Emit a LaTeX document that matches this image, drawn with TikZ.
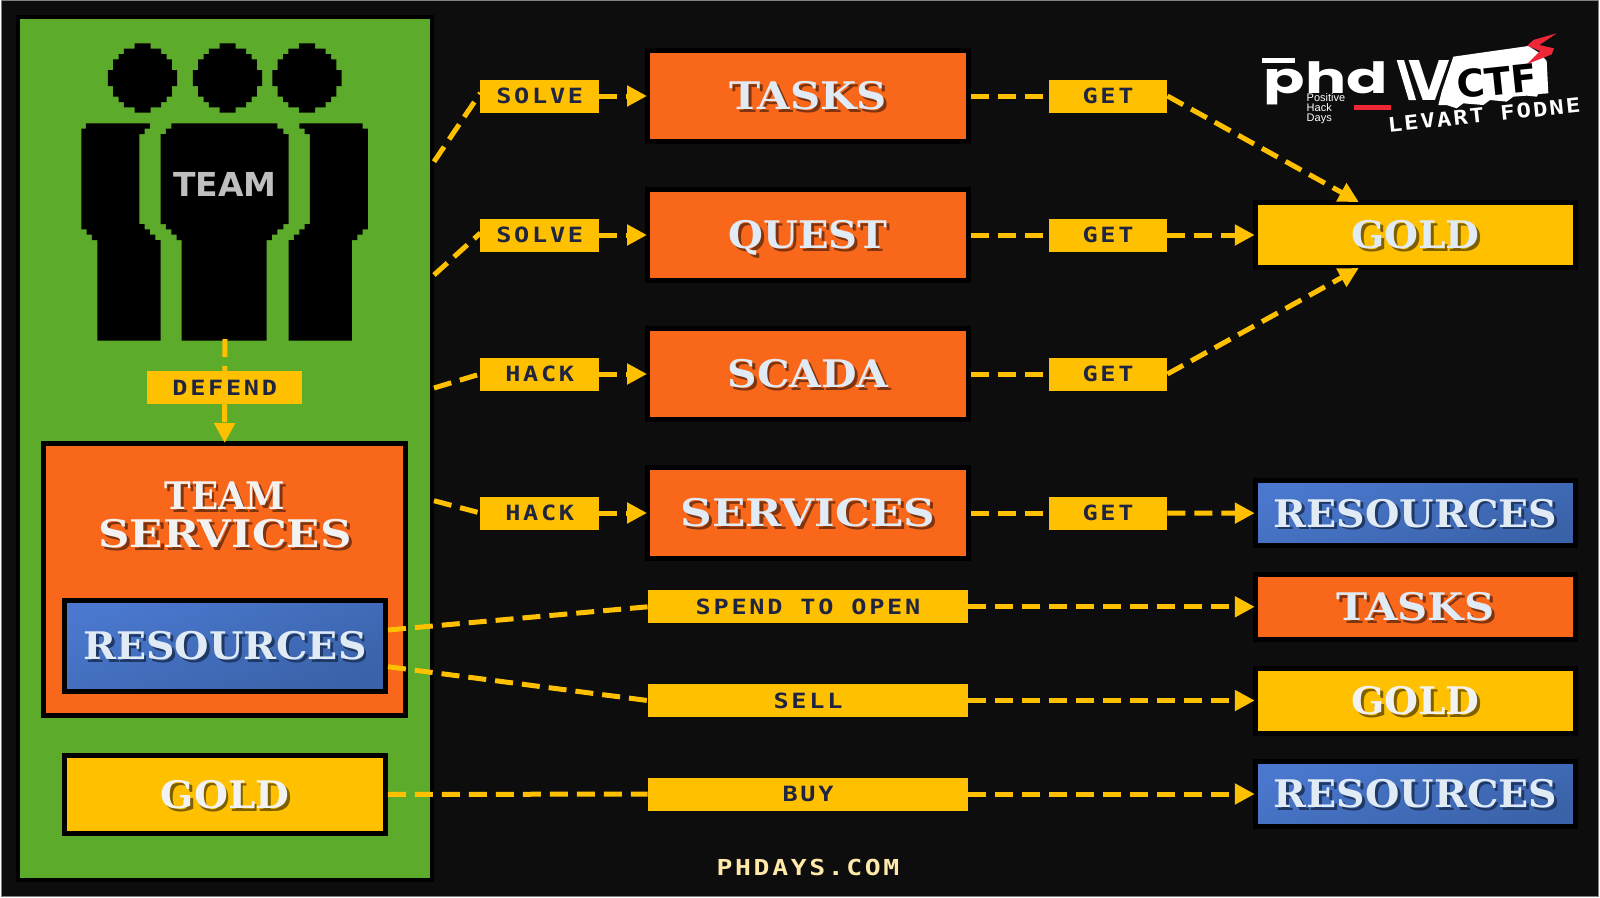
\documentclass[tikz,border=0pt]{standalone}
\usepackage{fontspec}
\usepackage{graphicx}
\usetikzlibrary{arrows.meta}
\setmainfont{Liberation Sans}
\newfontfamily\bigfont{DejaVu Serif}
\newfontfamily\lblfont[FakeStretch=1.2,LetterSpace=13]{DejaVu Sans Mono}
\newfontfamily\webfont[FakeStretch=1.2,LetterSpace=12]{DejaVu Sans Mono}
\newfontfamily\levfont[FakeStretch=1.2,LetterSpace=10]{DejaVu Sans Mono}
\newfontfamily\logofont{Poppins}
\newfontfamily\dvfont{DejaVu Sans}
\definecolor{bgc}{HTML}{0D0D0D}
\definecolor{greenc}{HTML}{5DAB2A}
\definecolor{orangec}{HTML}{F9671A}
\definecolor{goldc}{HTML}{FFC000}
\definecolor{blueA}{HTML}{4A78CE}
\definecolor{blueB}{HTML}{3A62A8}
\definecolor{lightc}{HTML}{E0EBF6}
\definecolor{whitec}{HTML}{F2F2F2}
\definecolor{shOr}{HTML}{7F3410}
\definecolor{shBl}{HTML}{1F3864}
\definecolor{shGo}{HTML}{7F6000}
\definecolor{inkc}{HTML}{1F2440}
\definecolor{redc}{HTML}{EE2737}
\definecolor{webc}{HTML}{FFE9A8}
% big title with a hard drop shadow: {shadow}{colour}{horizontal scale}{text}
\newcommand\bigtitle[4]{{\bigfont\bfseries\fontsize{38}{38}\selectfont
  \raisebox{0pt}[.729em][0pt]{\scalebox{#3}[1]{\rlap{\kern2.7pt\raisebox{-2.7pt}{\textcolor{#1}{#4}}}\textcolor{#2}{#4}}}}}
\tikzset{
  box/.style={rectangle,draw=black,line width=5pt,inner sep=0pt,align=center},
  orbox/.style={box,fill=orangec,minimum width=321pt,minimum height=91pt},
  rbox/.style={box,minimum width=320.5pt,minimum height=65pt},
  blueshade/.style={shade,shading=axis,left color=blueA,right color=blueB,shading angle=20},
  lbl/.style={rectangle,fill=goldc,inner sep=0pt,minimum height=33pt,
     text=inkc,font=\lblfont\bfseries\fontsize{21}{21}\selectfont},
  short/.style={lbl,minimum width=118.5pt},
  long/.style={lbl,minimum width=320.5pt},
  flow/.style={draw=goldc,line width=5pt,dash pattern=on 18pt off 9pt},
  arrowflow/.style={flow,shorten >=-2pt,-{Triangle[length=20pt,width=20pt]}},
  person/.style={fill=black},
}
\begin{document}
\begin{tikzpicture}[x=1pt,y=-1pt]
\useasboundingbox (0,0) rectangle (1600,897);
\fill[white] (0,0) rectangle (1600,897);
\draw[fill=bgc,draw=black!50,line width=1pt] (1.5,.5) rectangle (1598.5,896);

% panel
\node[rectangle,draw=black,fill=greenc,line width=4pt,minimum width=414.5pt,minimum height=863.5pt,inner sep=0pt] (panel) at (224.75,448.25) {};

% people
\foreach \cx in {142.5,227.5,307}{
\begin{scope}[shift={(\cx,78)},x=5.333pt,y=5.333pt]
\fill[person] (1.5,-6.5)--(1.5,-5.5)--(3.5,-5.5)--(3.5,-4.5)--(4.5,-4.5)--(4.5,-3.5)--(5.5,-3.5)--(5.5,-1.5)--(6.5,-1.5)--(6.5,1.5)--(5.5,1.5)--(5.5,3.5)--(4.5,3.5)--(4.5,4.5)--(3.5,4.5)--(3.5,5.5)--(1.5,5.5)--(1.5,6.5)
 --(-1.5,6.5)--(-1.5,5.5)--(-3.5,5.5)--(-3.5,4.5)--(-4.5,4.5)--(-4.5,3.5)--(-5.5,3.5)--(-5.5,1.5)--(-6.5,1.5)--(-6.5,-1.5)--(-5.5,-1.5)--(-5.5,-3.5)--(-4.5,-3.5)--(-4.5,-4.5)--(-3.5,-4.5)--(-3.5,-5.5)--(-1.5,-5.5)--(-1.5,-6.5)--cycle;
\end{scope}}
\begin{scope}[x=.33333pt,y=-.33333pt]
\fill[person] (514,370)--(832,370)--(832,386)--(850,386)--(850,402)--(866,402)--(866,672)--(850,672)--(850,688)--(832,688)--(832,704)--(816,704)--(816,720)--(800,720)--(800,1022)--(545,1022)--(545,720)--(530,720)--(530,704)--(514,704)--(514,688)--(498,688)--(498,672)--(482,672)--(482,402)--(498,402)--(498,386)--(514,386)--cycle;
\fill[person] (258,370)--(450,370)--(450,386)--(434,386)--(434,402)--(418,402)--(418,672)--(434,672)--(434,688)--(450,688)--(450,704)--(466,704)--(466,720)--(482,720)--(482,1022)--(292,1022)--(292,720)--(276,720)--(276,704)--(260,704)--(260,688)--(244,688)--(244,386)--(258,386)--cycle;
\fill[person] (898,370)--(1088,370)--(1088,386)--(1104,386)--(1104,688)--(1088,688)--(1088,704)--(1072,704)--(1072,720)--(1056,720)--(1056,1022)--(866,1022)--(866,720)--(882,720)--(882,704)--(898,704)--(898,688)--(914,688)--(914,672)--(930,672)--(930,402)--(914,402)--(914,386)--(898,386)--cycle;
\end{scope}
\node[text=black!25,font=\dvfont\bfseries\fontsize{33}{33}\selectfont,inner sep=0pt] (teamlbl) at (225,184) {TEAM};

% left boxes
\node[box,fill=orangec,minimum width=361.5pt,minimum height=272pt] (tsvc) at (224.5,579.5) {};
\node[inner sep=0pt] (tsvcA) at (225,496) {\bigtitle{shOr}{whitec}{.94}{TEAM}};
\node[inner sep=0pt] (tsvcB) at (225,533.5) {\bigtitle{shOr}{whitec}{1.147}{SERVICES}};
\node[box,blueshade,minimum width=320.5pt,minimum height=91pt] (lres) at (225,646) {\bigtitle{shBl}{lightc}{1.04}{RESOURCES}};
\node[box,fill=goldc,minimum width=320.5pt,minimum height=78.5pt] (lgold) at (225,794.5) {\bigtitle{shGo}{whitec}{1.025}{GOLD}};

% middle column
\node[orbox] (tasks) at (808,96) {\bigtitle{shOr}{lightc}{1.1}{TASKS}};
\node[orbox] (quest) at (808,235) {\bigtitle{shOr}{lightc}{1.054}{QUEST}};
\node[orbox] (scada) at (808,374) {\bigtitle{shOr}{lightc}{1.076}{SCADA}};
\node[orbox] (svc) at (808,513) {\bigtitle{shOr}{lightc}{1.153}{SERVICES}};

% verbs
\node[short] (v1) at (539.7,96) {SOLVE};
\node[short] (v2) at (539.7,235) {SOLVE};
\node[short] (v3) at (539.7,374) {HACK};
\node[short] (v4) at (539.7,513) {HACK};
\node[short] (g1) at (1108,96) {GET};
\node[short] (g2) at (1108,235) {GET};
\node[short] (g3) at (1108,374) {GET};
\node[short] (g4) at (1108,513) {GET};
\node[long] (spend) at (808,606.8) {SPEND TO OPEN};
\node[long] (sell) at (808,700.5) {SELL};
\node[long] (buy) at (808,794) {BUY};
\node[lbl,minimum width=155pt] (defend) at (224.7,387.5) {DEFEND};

% right column
\node[rbox,fill=goldc] (rgold) at (1415.5,235) {\bigtitle{shGo}{lightc}{1.025}{GOLD}};
\node[rbox,blueshade] (rres) at (1415.5,513.3) {\bigtitle{shBl}{lightc}{1.04}{RESOURCES}};
\node[rbox,fill=orangec] (rtasks) at (1415.5,606.8) {\bigtitle{shOr}{lightc}{1.1}{TASKS}};
\node[rbox,fill=goldc] (rgold2) at (1415.5,700.5) {\bigtitle{shGo}{whitec}{1.025}{GOLD}};
\node[rbox,blueshade] (rres2) at (1415.5,794) {\bigtitle{shBl}{lightc}{1.04}{RESOURCES}};

% free ends
\coordinate (p1) at (434,161.7);
\coordinate (p2) at (434,275);
\coordinate (p3) at (434,388);
\coordinate (p4) at (434,500.7);
\coordinate (bodyend) at (225,339);
\coordinate (goldtop) at (1357,201);
\coordinate (goldbot) at (1357,269);
\coordinate (v1in) at (480.4,93);
\coordinate (v2in) at (480.4,233);
\coordinate (resA) at (388,630);
\coordinate (resB) at (388,666.7);

% connectors
\draw[flow] (p1) -- (v1in);
\draw[flow] (p2) -- (v2in);
\draw[flow] (p3) -- (v3.west);
\draw[flow] (p4) -- (v4.west);
\draw[arrowflow] (v1) -- (tasks);
\draw[arrowflow] (v2) -- (quest);
\draw[arrowflow] (v3) -- (scada);
\draw[arrowflow] (v4) -- (svc);
\draw[flow] (tasks) -- (g1);
\draw[flow] (quest) -- (g2);
\draw[flow] (scada) -- (g3);
\draw[flow] (svc) -- (g4);
\draw[arrowflow] (g1.east) -- (goldtop);
\draw[arrowflow] (g2) -- (rgold);
\draw[arrowflow] (g3.east) -- (goldbot);
\draw[arrowflow] (g4) -- (rres);
\draw[flow] (resA) -- (spend.west);
\draw[flow] (resB) -- (sell.west);
\draw[flow] (lgold) -- (buy);
\draw[arrowflow] (spend) -- (rtasks);
\draw[arrowflow] (sell) -- (rgold2);
\draw[arrowflow] (buy) -- (rres2);
\draw[flow] (bodyend) -- (defend);
\draw[arrowflow] (defend) -- (tsvc);

% footer
\node[text=webc,font=\webfont\bfseries\fontsize{22}{22}\selectfont,inner sep=0pt] (web) at (808,867) {PHDAYS.COM};

% logo
\begin{scope}[shift={(1250,25)},x=.33333pt,y=-.33333pt]
\fill[white] (35,100) rectangle (135,115);
\fill[white] (440,105)--(462,105)--(498,225)--(476,225)--cycle;
\fill[white] (610,95)--(835,63)--(870,85)--(890,108)--(895,205)--(865,207)--(860,215)--(830,212)--(790,215)--(770,230)--(720,225)--(700,240)--(640,235)--(620,250)--(590,240)--(565,240)--(575,200)--cycle;
\fill[redc] (313,240) rectangle (423,256);
\fill[redc] (920,25)--(850,45)--(832,62)--(870,78)--(830,118)--(905,88)--(912,70)--(868,60)--cycle;
\end{scope}
\node[text=white,font=\logofont\bfseries\fontsize{43}{43}\selectfont,inner sep=0pt,anchor=base] (phd) at (1326,93) {\scalebox{1.42}[1]{phd}};
\node[text=white,font=\logofont\bfseries\fontsize{57}{57}\selectfont,inner sep=0pt,anchor=base] (vee) at (1429.7,100) {V};
\node[text=white,font=\fontsize{11}{10}\selectfont,align=left,inner sep=0pt,anchor=west] (pos) at (1306.5,109) {Positive\\Hack\\Days};
\node[text=black,font=\dvfont\bfseries\fontsize{38}{38}\selectfont,inner sep=0pt,rotate=6] (ctf) at (1497,81) {CTF};
\node[text=white,font=\levfont\bfseries\fontsize{20}{20}\selectfont,inner sep=0pt,rotate=6] (lev) at (1484,115) {LEVART FODNE};
\end{tikzpicture}
\end{document}
